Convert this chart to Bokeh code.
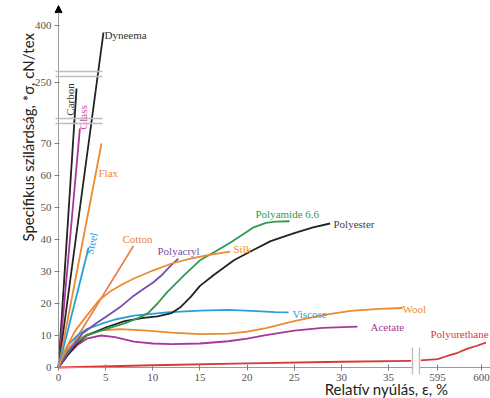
import math
from bokeh.plotting import figure
from bokeh.models import FixedTicker, Label, Arrow, NormalHead
from bokeh.embed import file_html
from bokeh.resources import INLINE

# ---------------- data (real units: strain %, tenacity cN/tex) ----------------
carbon_x = [0, 1.91]
carbon_y = [0, 235]
glass_x = [0, 2.27]
glass_y = [0, 74.7]
dyneema_x = [0, 4.77]
dyneema_y = [0, 382.5]
flax_x = [0, 4.56]
flax_y = [0, 70]
steel_x = [0, 3.2]
steel_y = [0, 37.5]
cotton_x = [0, 7.95]
cotton_y = [0, 38]
silk_x = [0, 0.7, 1.8, 3, 4.3, 5.5, 6.8, 8, 10, 12, 14, 16, 18.2]
silk_y = [0, 5.5, 11.6, 16.2, 21, 23.8, 26, 27.8, 30.3, 32.5, 34, 35.2, 36.2]
polyacryl_x = [0, 1, 2.5, 4, 5, 6.5, 7.8, 9, 10, 11, 11.8, 12.7]
polyacryl_y = [0, 4.5, 10.5, 13.8, 15.8, 18.8, 22, 24.5, 26.5, 29, 31.5, 34]
polyamide_x = [0, 1, 2, 3, 5, 7, 8.5, 9.5, 10.5, 11.5, 13.3, 15, 16.5, 18.2, 19.5, 20.7, 22, 23, 24.5]
polyamide_y = [0, 5, 8, 10, 12, 13.8, 15.5, 17, 20, 23.5, 28.8, 33.5, 36, 39, 41.5, 43.8, 45.2, 45.6, 45.7]
polyester_x = [0, 1, 2, 3, 5, 7, 9, 10.5, 12, 13, 14, 15, 16.5, 18.6, 20.5, 22.5, 25, 27, 28.8]
polyester_y = [0, 4, 7.5, 10, 12.5, 14.5, 15.5, 16, 17, 19, 22, 25.5, 29, 33.5, 36.5, 39.5, 42, 43.8, 45]
viscose_x = [0, 0.5, 1, 2, 3, 4.5, 6, 8, 11.5, 15, 18, 21, 23, 24.4]
viscose_y = [0, 4, 7, 10, 12, 13.6, 15, 16.2, 17.2, 17.8, 18, 17.6, 17.3, 17.2]
wool_x = [0, 0.5, 1, 2, 3, 4.5, 6.5, 9, 12, 15, 18, 20, 22, 25, 28, 31, 34, 36.5]
wool_y = [0, 3.5, 6, 8.5, 10.3, 11.6, 12, 11.6, 10.9, 10.4, 10.6, 11.2, 12.3, 14.5, 16.4, 17.7, 18.3, 18.6]
acetate_x = [0, 0.5, 1, 2, 3, 4.5, 6, 8, 10, 12, 15, 18, 20, 22, 25, 28, 31.7]
acetate_y = [0, 2, 4, 7, 9, 10, 9.5, 8.1, 7.5, 7.3, 7.5, 8.2, 9, 10.1, 11.5, 12.4, 12.8]
pu1_x = [0, 10, 20, 30, 37.4]
pu1_y = [0, 0.7, 1.3, 1.8, 2.1]
pu2_x = [593.1, 595, 596.1, 597.3, 598.4, 599.5, 600.5]
pu2_y = [2.2, 2.6, 3.6, 4.6, 5.9, 6.8, 7.8]

x_ticks = [0, 5, 10, 15, 20, 25, 30, 35, 595, 600]
y_ticks = [0, 10, 20, 30, 40, 50, 60, 70, 250, 400]

# ---------------- broken-axis scales ----------------
def vy(r):
    if r <= 100:
        return r
    if r <= 270:
        return 89.0625 + (r - 250) * 0.125
    return 106.875 + (r - 400) * 0.125

def vx(r):
    if r <= 100:
        return r
    return 40.19 + (r - 595) * 0.9332

def at(px, py):
    # reference-pixel helper for annotation placement
    return (px - 58) / 9.43, (367 - py) / 3.2

BLACK = "#222222"
MAGENTA = "#A8379A"
ORANGE = "#EE8A2E"
SALMON = "#E8804A"
BLUE = "#2A9FD6"
GREEN = "#2E9A4F"
PURPLE = "#7450A8"
RED = "#D93838"

W, H = 490, 398
p = figure(width=W, height=H,
           x_range=(-58 / 9.43, (W - 58) / 9.43),
           y_range=(-(H - 367) / 3.2, 367 / 3.2),
           output_backend="svg", toolbar_location=None,
           min_border_left=0, min_border_right=0, min_border_top=0, min_border_bottom=0)
p.outline_line_color = None
p.xgrid.visible = False
p.ygrid.visible = False
p.background_fill_color = "white"

series = [
    (carbon_x, carbon_y, BLACK), (glass_x, glass_y, MAGENTA), (dyneema_x, dyneema_y, BLACK),
    (flax_x, flax_y, ORANGE), (steel_x, steel_y, BLUE), (cotton_x, cotton_y, SALMON),
    (acetate_x, acetate_y, MAGENTA), (wool_x, wool_y, ORANGE), (viscose_x, viscose_y, BLUE),
    (polyester_x, polyester_y, BLACK), (polyamide_x, polyamide_y, GREEN),
    (polyacryl_x, polyacryl_y, PURPLE), (silk_x, silk_y, ORANGE),
    (pu1_x, pu1_y, RED), (pu2_x, pu2_y, RED),
]
for xs, ys, c in series:
    p.line([vx(v) for v in xs], [vy(v) for v in ys], line_color=c, line_width=1.8)

# axes (crossing at the origin)
yt = [vy(v) for v in y_ticks]
xt = [vx(v) for v in x_ticks]
p.yaxis.ticker = FixedTicker(ticks=yt)
p.yaxis.major_label_overrides = {t: str(v) for t, v in zip(yt, y_ticks)}
p.xaxis.ticker = FixedTicker(ticks=xt)
p.xaxis.major_label_overrides = {t: str(v) for t, v in zip(xt, x_ticks)}
p.xaxis.fixed_location = 0
p.yaxis.fixed_location = 0
p.xaxis.bounds = (0, vx(601))
p.yaxis.bounds = (0, 111)
for ax in (p.xaxis, p.yaxis):
    ax.axis_line_color = "#9a9a9a"
    ax.major_tick_line_color = "#808080"
    ax.minor_tick_line_color = None
    ax.major_label_text_font = "Liberation Serif"
    ax.major_label_text_font_size = "11px"
    ax.major_label_text_color = "#555555"
p.yaxis.major_tick_in = 1
p.yaxis.major_tick_out = 4
p.yaxis.major_label_standoff = 3
p.xaxis.major_tick_in = 3
p.xaxis.major_tick_out = 3
p.xaxis.major_label_standoff = 3

# axis arrow
p.add_layout(Arrow(end=NormalHead(size=7, fill_color="black", line_color="black"),
                   x_start=0, y_start=108, x_end=0, y_end=113.1,
                   line_color="#9a9a9a", line_width=1))

# break marks
BRK = "#bdbdbd"
p.add_layout(Arrow(end=None, x_start=37.6, y_start=0, x_end=38.22, y_end=0,
                   line_color="white", line_width=3))
for yb in (76.25, 77.81, 90.94, 92.5):
    p.add_layout(Arrow(end=None, x_start=-0.32, y_start=yb, x_end=4.67, y_end=yb,
                       line_color=BRK, line_width=1.3))
for xb in (37.54, 38.28):
    p.add_layout(Arrow(end=None, x_start=xb, y_start=-2.19, x_end=xb, y_end=6.25,
                       line_color=BRK, line_width=1.3))

# curve labels
labels = [
    ("Dyneema", 104, 34, "#333333", 0, "left"),
    ("Carbon", 69, 99, "#333333", 90, "center"),
    ("Glass", 82, 117, "#C04AA0", 90, "center"),
    ("Flax", 98, 172, ORANGE, 0, "left"),
    ("Steel", 91, 243, BLUE, 76, "center"),
    ("Cotton", 122, 238, SALMON, 0, "left"),
    ("Polyacryl", 157, 250, PURPLE, 0, "left"),
    ("Silk", 233, 248, ORANGE, 0, "left"),
    ("Polyamide 6.6", 255, 213, GREEN, 0, "left"),
    ("Polyester", 333, 223, "#444444", 0, "left"),
    ("Viscose", 292, 313, BLUE, 0, "left"),
    ("Wool", 402, 308, ORANGE, 0, "left"),
    ("Acetate", 370, 326, "#9C3C96", 0, "left"),
    ("Polyurethane", 430, 333, RED, 0, "left"),
]
for txt, px, py, col, ang, al in labels:
    x, y = at(px, py)
    p.text(x=[x], y=[y], text=[txt], text_color=col, text_font_size="11px",
           text_font={"value": "Liberation Serif"}, text_align=al, text_baseline="middle",
           angle=math.radians(ang))

# axis titles
tx, ty = at(27, 137)
p.add_layout(Label(x=tx, y=ty, text="Specifikus szilárdság, *σ, cN/tex", angle=math.pi / 2,
                   text_align="center", text_baseline="middle", text_font="Lato",
                   text_font_size="15px", text_color="#222222"))
lx, ly = at(386, 388)
p.add_layout(Label(x=lx, y=ly, text="Relatív nyúlás, ε, %",
                   text_align="center", text_baseline="middle", text_font="Lato",
                   text_font_size="15px", text_color="#222222"))

open("out.html", "w").write(file_html(p, INLINE))
